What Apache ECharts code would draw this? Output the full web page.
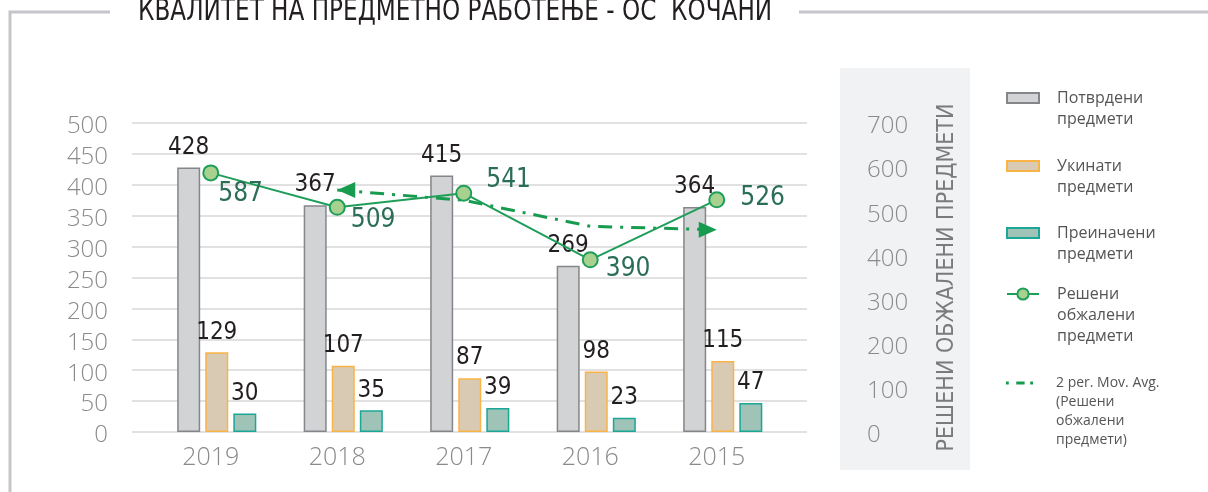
<!DOCTYPE html>
<html>
<head>
<meta charset="utf-8">
<script src="https://cdn.jsdelivr.net/npm/echarts@6/dist/echarts.min.js"></script>
<style>
  html, body { margin: 0; padding: 0; background: #fff; }
  #chart { width: 1208px; height: 492px; }
</style>
</head>
<body>
<div id="chart"></div>
<script>
// податоци од графиконот
var categories = ['2019', '2018', '2017', '2016', '2015'];
var confirmed = [428, 367, 415, 269, 364];   // Потврдени предмети
var annulled = [129, 107, 87, 98, 115];      // Укинати предмети
var modified = [30, 35, 39, 23, 47];         // Преиначени предмети
var resolved = [587, 509, 541, 390, 526];    // Решени обжалени предмети
var movingAvg = ['-', 548, 525, 466, 458];   // 2 пер. Mov. Avg.

var seriesNames = ['Потврдени предмети', 'Укинати предмети', 'Преиначени предмети',
    'Решени обжалени предмети', '2 per. Mov. Avg. (Решени обжалени предмети)'];
var legendLabels = ['Потврдени\nпредмети', 'Укинати\nпредмети', 'Преиначени\nпредмети',
    'Решени\nобжалени\nпредмети', '2 per. Mov. Avg.\n(Решени\nобжалени\nпредмети)'];

var narrow = '"Liberation Sans Narrow", "DejaVu Sans Condensed", "Roboto Condensed", sans-serif';
var light = '"Open Sans", "Noto Sans", sans-serif';

// поместување на етикетите на линијата
var lineLabelOffsets = [[-1, 21], [5, 13], [14, -13], [7, 9], [15, -2]];

const chart = echarts.init(document.getElementById('chart'));

var barLabel = {
    show: true,
    position: 'top',
    distance: 8,
    fontFamily: narrow,
    fontSize: 24,
    color: '#231f20'
};

// легенда: секоја ставка посебно, иконата порамнета со првиот ред
// (празни редови пред текстот го туркаат првиот ред до иконата)
var legendCenters = [98, 166, 233, 294, 383];
var legends = seriesNames.map(function (name, i) {
    var lines = legendLabels[i].split('\n').length;
    var lh = i === 4 ? 19 : 21;
    var item = { name: name };
    if (i < 3) item.icon = 'rect';
    // испрекината линија за подвижниот просек
    if (i === 4) item.icon = 'path://M0,0h3v3h-3z M11,0h9v3h-9z M26,0h3v3h-3z';
    var text = new Array(lines).join('\n') + legendLabels[i];
    return {
        orient: 'vertical',
        left: 1006,
        top: legendCenters[i] - (2 * lines - 1) * lh / 2,
        padding: 0,
        itemWidth: i === 4 ? 27 : 32,
        itemHeight: i === 3 ? 14 : (i === 4 ? 3 : 10),
        selectedMode: false,
        data: [item],
        formatter: function () { return text; },
        textStyle: {
            fontFamily: light,
            fontSize: i === 4 ? 14 : 16,
            lineHeight: lh,
            color: '#555',
            padding: [0, 0, 0, i === 4 ? 18 : 13]
        }
    };
});

// етикетите на оските малку под линијата на мрежата
var tickLabel = {
    formatter: '{v|{value}}',
    rich: {
        v: {
            fontFamily: light,
            fontWeight: 300,
            fontSize: 24,
            color: '#8a8a8a',
            padding: [7, 0, 0, 0]
        }
    }
};

const option = {
    animation: false,
    graphic: [
        {
            type: 'rect', z: -10,
            shape: { x: 840, y: 68, width: 130, height: 402 },
            style: { fill: '#f1f2f4' }
        },
        {
            type: 'polyline',
            shape: { points: [[10, 492], [10, 12], [110, 12]] },
            style: { stroke: '#c5c6ca', lineWidth: 3, fill: null }
        },
        {
            type: 'line',
            shape: { x1: 799, y1: 12, x2: 1208, y2: 12 },
            style: { stroke: '#c5c6ca', lineWidth: 3 }
        },
        {
            type: 'text',
            x: 138, y: 12,
            scaleX: 0.83,
            style: {
                text: 'КВАЛИТЕТ НА ПРЕДМЕТНО РАБОТЕЊЕ - ОС  КОЧАНИ',
                fontFamily: narrow,
                fontSize: 31,
                fill: '#231f20',
                verticalAlign: 'middle'
            }
        }
    ],
    legend: legends,
    grid: [
        { left: 132, right: 401, top: 123, bottom: 60 },
        { left: 147.5, width: 632.5, top: 123, bottom: 60 },
        { left: 153.5, width: 632.5, top: 123, bottom: 60 }
    ],
    xAxis: [
        { gridIndex: 0, type: 'value', show: false },
        {
            gridIndex: 1,
            type: 'category',
            data: categories,
            axisLine: { show: false },
            axisTick: { show: false },
            axisLabel: {
                margin: 13,
                fontFamily: light,
                fontWeight: 300,
                fontSize: 25,
                color: '#8a8a8a'
            }
        },
        { gridIndex: 2, type: 'category', data: categories, show: false }
    ],
    yAxis: [
        {
            gridIndex: 0,
            type: 'value',
            min: 0, max: 500, interval: 50,
            axisLine: { show: false },
            axisTick: { show: false },
            axisLabel: Object.assign({ margin: 24 }, tickLabel),
            splitLine: { lineStyle: { color: '#e1e1e1', width: 2 } }
        },
        { gridIndex: 2, type: 'value', min: 0, max: 500, show: false },
        {
            gridIndex: 1,
            type: 'value',
            position: 'right',
            min: 0, max: 700, interval: 100,
            axisLine: { show: false },
            axisTick: { show: false },
            splitLine: { show: false },
            axisLabel: Object.assign({ margin: 87, align: 'left' }, tickLabel),
            name: 'РЕШЕНИ ОБЖАЛЕНИ ПРЕДМЕТИ',
            nameLocation: 'middle',
            nameRotate: 90,
            nameGap: 156,
            nameTextStyle: {
                fontFamily: narrow,
                fontSize: 23,
                color: '#7b7b7b'
            }
        }
    ],
    series: [
        {
            name: seriesNames[0],
            type: 'bar',
            xAxisIndex: 2, yAxisIndex: 1,
            barWidth: 23,
            barGap: '22%',
            data: confirmed,
            itemStyle: { color: '#d1d3d5', borderColor: '#85868a', borderWidth: 1.5 },
            label: barLabel
        },
        {
            name: seriesNames[1],
            type: 'bar',
            xAxisIndex: 2, yAxisIndex: 1,
            barWidth: 23,
            data: annulled,
            itemStyle: { color: '#d8cab3', borderColor: '#f9b448', borderWidth: 1.5 },
            label: barLabel
        },
        {
            name: seriesNames[2],
            type: 'bar',
            xAxisIndex: 2, yAxisIndex: 1,
            barWidth: 23,
            data: modified,
            itemStyle: { color: '#9fc3b6', borderColor: '#1ba696', borderWidth: 1.5 },
            label: barLabel
        },
        {
            name: seriesNames[4],
            type: 'line',
            xAxisIndex: 1, yAxisIndex: 2,
            z: 3,
            symbol: 'none',
            lineStyle: { color: '#179c4f', width: 3, type: [14, 8, 3, 8] },
            itemStyle: { color: '#179c4f' },
            data: movingAvg.map(function (v, i) {
                if (i === 1) return { value: v, symbol: 'triangle', symbolSize: [16, 18], symbolRotate: 90, symbolOffset: [9, 0] };
                if (i === movingAvg.length - 1) return { value: v, symbol: 'triangle', symbolSize: [16, 18], symbolRotate: -90, symbolOffset: [-9, 0] };
                return v;
            })
        },
        {
            name: seriesNames[3],
            type: 'line',
            xAxisIndex: 1, yAxisIndex: 2,
            z: 4,
            symbol: 'circle',
            symbolSize: 15,
            lineStyle: { color: '#1f9e5a', width: 2 },
            itemStyle: { color: '#a8d18f', borderColor: '#1f9e5a', borderWidth: 2 },
            data: resolved.map(function (v, i) {
                return { value: v, label: { offset: lineLabelOffsets[i] } };
            }),
            label: {
                show: true,
                position: 'right',
                distance: 0,
                fontFamily: narrow,
                fontSize: 26,
                color: '#2b6e56'
            }
        }
    ]
};

chart.setOption(option);
</script>
</body>
</html>
